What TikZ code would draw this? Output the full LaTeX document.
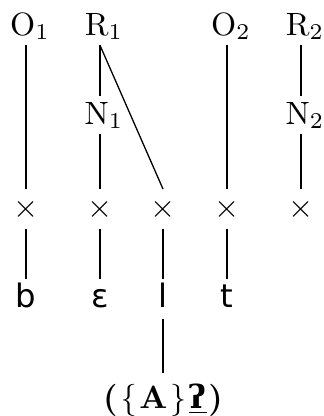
\documentclass[tikz,border=0pt]{standalone}
\usepackage{fontspec}
\newfontfamily\ipasans{DejaVu Sans}
\newfontfamily\ipaserif{DejaVu Serif}

\begin{document}
\begin{tikzpicture}[
  x=0.31pt,
  y=-0.31pt,
  tier/.style={
    anchor=base,
    inner sep=1.5pt
  },
  slot/.style={
    inner sep=0pt,
    minimum width=12pt,
    minimum height=12pt
  },
  seg/.style={
    anchor=base,
    font=\ipasans,
    text height=7.6pt,
    text depth=2.4pt,
    inner sep=1pt
  },
  gloss/.style={
    anchor=base,
    inner sep=3pt
  },
  link/.style={thin}
]
\useasboundingbox (0,0) rectangle (323,416);

% Onsets and rhymes.
\node[tier] (o1) at (30,35) {O$_1$};
\node[tier] (r1) at (104,35) {R$_1$};
\node[tier] (o2) at (231,35) {O$_2$};
\node[tier] (r2) at (305,35) {R$_2$};

% Nuclei.
\node[tier] (n1) at (104,124) {N$_1$};
\node[tier] (n2) at (305,124) {N$_2$};

% Skeletal slots.
\node[slot] (x1) at (26,209) {$\times$};
\node[slot] (x2) at (100,209) {$\times$};
\node[slot] (x3) at (163,209) {$\times$};
\node[slot] (x4) at (227,209) {$\times$};
\node[slot] (x5) at (301,209) {$\times$};

% Melody.
\node[seg] (sb) at (26,307) {b};
\node[seg] (se) at (100,307) {ɛ};
\node[seg] (sl) at (163,307) {l};
\node[seg] (st) at (227,307) {t};
\node[gloss] (el) at (163,408)
  {\textbf{(}\kern1pt\{\kern0.8pt\textbf{A}\kern0.8pt\}\kern0.8pt\underline{\ipaserif\bfseries ʔ}\kern0.6pt\textbf{)}};

% Constituent structure.
\draw[link] (o1.south -| x1) -- (x1);
\draw[link] (r1.south -| x2) -- (n1.north -| x2);
\draw[link] (n1.south -| x2) -- (x2);
\draw[link] (r1.south -| x2) -- (x3.north);
\draw[link] (o2.south -| x4) -- (x4);
\draw[link] (r2.south -| x5) -- (n2.north -| x5);
\draw[link] (n2.south -| x5) -- (x5);

% Association lines.
\draw[link] (x1) -- (sb);
\draw[link] (x2) -- (se);
\draw[link] (x3) -- (sl);
\draw[link] (x4) -- (st);
\draw[link] (sl) -- (el);

\end{tikzpicture}
\end{document}
